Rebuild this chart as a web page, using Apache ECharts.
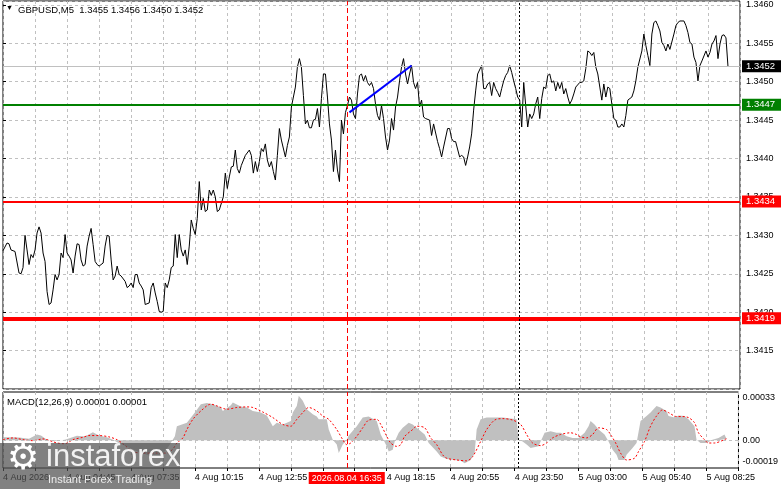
<!DOCTYPE html>
<html>
<head>
<meta charset="utf-8">
<title>GBPUSD M5</title>
<script src="https://cdn.jsdelivr.net/npm/echarts/dist/echarts.min.js"></script>
<style>
  html, body { margin: 0; padding: 0; background: #fff; }
  #chart { width: 781px; height: 489px; }
</style>
</head>
<body>
<div id="chart"></div>
<script>
// bar index (one bar = 5 minutes) -> close price
var closeLine = [
  [0,1.34280],[2,1.34290],[3,1.34289],[4,1.34281],[6,1.34279],[8,1.34251],[9,1.34250],[10,1.34258],[11,1.34300],[12,1.34281],
  [13,1.34262],[14,1.34275],[15,1.34271],[16,1.34281],[17,1.34303],[18,1.34311],[19,1.34303],[20,1.34277],[21,1.34266],[22,1.34227],
  [23,1.34210],[24,1.34212],[25,1.34229],[26,1.34249],[27,1.34242],[28,1.34249],[29,1.34277],[30,1.34271],[31,1.34301],[32,1.34277],
  [33,1.34273],[34,1.34268],[35,1.34251],[36,1.34273],[37,1.34289],[38,1.34288],[39,1.34268],[40,1.34260],[41,1.34262],[42,1.34286],
  [43,1.34299],[44,1.34309],[45,1.34288],[46,1.34266],[47,1.34262],[48,1.34260],[50,1.34264],[51,1.34286],[52,1.34300],[53,1.34299],
  [54,1.34268],[55,1.34242],[56,1.34247],[57,1.34260],[58,1.34249],[59,1.34247],[61,1.34240],[62,1.34232],[63,1.34234],[64,1.34238],
  [65,1.34232],[66,1.34249],[67,1.34249],[68,1.34238],[69,1.34234],[70,1.34229],[71,1.34210],[73,1.34212],[74,1.34232],[75,1.34238],
  [76,1.34225],[77,1.34214],[78,1.34201],[79,1.34200],[80,1.34201],[81,1.34238],[82,1.34232],[83,1.34242],[84,1.34258],[85,1.34260],
  [86,1.34301],[87,1.34271],[88,1.34301],[89,1.34281],[90,1.34273],[91,1.34281],[92,1.34262],[93,1.34286],[94,1.34320],[95,1.34309],
  [96,1.34301],[97,1.34322],[98,1.34370],[99,1.34333],[100,1.34348],[101,1.34331],[102,1.34333],[103,1.34359],[104,1.34352],[105,1.34359],
  [106,1.34350],[107,1.34331],[108,1.34333],[110,1.34350],[111,1.34381],[112,1.34361],[113,1.34376],[114,1.34389],[115,1.34390],[116,1.34411],
  [117,1.34387],[118,1.34381],[119,1.34391],[121,1.34404],[123,1.34411],[124,1.34404],[125,1.34381],[126,1.34396],[127,1.34383],[128,1.34396],
  [129,1.34413],[130,1.34409],[131,1.34419],[132,1.34398],[133,1.34389],[134,1.34396],[135,1.34383],[136,1.34372],[137,1.34404],[138,1.34439],
  [139,1.34424],[141,1.34402],[142,1.34417],[143,1.34428],[144,1.34467],[146,1.34493],[147,1.34519],[148,1.34530],[149,1.34519],[150,1.34482],
  [151,1.34445],[152,1.34450],[153,1.34440],[154,1.34440],[155,1.34450],[156,1.34451],[157,1.34465],[158,1.34441],[159,1.34478],[160,1.34510],
  [161,1.34510],[162,1.34480],[163,1.34445],[164,1.34424],[165,1.34383],[166,1.34411],[167,1.34385],[168,1.34370],[169,1.34450],[170,1.34432],
  [171,1.34460],[172,1.34469],[173,1.34480],[174,1.34476],[175,1.34458],[176,1.34452],[177,1.34484],[178,1.34508],[179,1.34510],[180,1.34501],
  [181,1.34508],[182,1.34499],[183,1.34495],[184,1.34499],[185,1.34491],[186,1.34471],[187,1.34456],[188,1.34450],[189,1.34469],[190,1.34452],
  [191,1.34428],[192,1.34411],[193,1.34424],[194,1.34452],[195,1.34437],[196,1.34467],[197,1.34480],[198,1.34501],[199,1.34519],[200,1.34530],
  [201,1.34510],[202,1.34497],[203,1.34510],[204,1.34521],[205,1.34499],[206,1.34491],[207,1.34499],[208,1.34467],[209,1.34476],[210,1.34454],
  [211,1.34452],[213,1.34450],[214,1.34430],[215,1.34445],[217,1.34422],[218,1.34413],[219,1.34402],[220,1.34415],[222,1.34439],[223,1.34439],
  [224,1.34426],[225,1.34422],[226,1.34422],[228,1.34402],[229,1.34404],[230,1.34402],[231,1.34391],[232,1.34402],[233,1.34415],[234,1.34432],
  [235,1.34463],[236,1.34488],[237,1.34510],[239,1.34521],[240,1.34491],[241,1.34491],[242,1.34497],[243,1.34499],[244,1.34482],[245,1.34499],
  [246,1.34491],[247,1.34486],[248,1.34480],[249,1.34491],[250,1.34501],[251,1.34508],[252,1.34512],[253,1.34521],[254,1.34512],[255,1.34501],
  [256,1.34491],[257,1.34480],[258,1.34476],[259,1.34441],[260,1.34499],[261,1.34469],[262,1.34441],[263,1.34458],[264,1.34452],[265,1.34458],
  [266,1.34471],[267,1.34480],[268,1.34452],[269,1.34478],[270,1.34493],[271,1.34491],[272,1.34508],[273,1.34510],[274,1.34499],[275,1.34501],
  [276,1.34488],[277,1.34499],[278,1.34491],[279,1.34499],[280,1.34484],[281,1.34491],[282,1.34480],[283,1.34471],[284,1.34476],[285,1.34484],
  [286,1.34493],[288,1.34499],[289,1.34499],[290,1.34501],[291,1.34517],[292,1.34540],[293,1.34538],[294,1.34534],[295,1.34538],[296,1.34519],
  [297,1.34510],[298,1.34493],[299,1.34476],[300,1.34497],[301,1.34480],[302,1.34493],[303,1.34491],[304,1.34471],[305,1.34452],[306,1.34450],
  [307,1.34441],[308,1.34441],[309,1.34445],[310,1.34441],[311,1.34456],[312,1.34476],[314,1.34480],[315,1.34488],[316,1.34501],[317,1.34519],
  [319,1.34540],[320,1.34562],[321,1.34547],[322,1.34534],[323,1.34521],[324,1.34562],[325,1.34577],[326,1.34579],[327,1.34573],[328,1.34566],
  [329,1.34551],[330,1.34547],[331,1.34540],[332,1.34549],[333,1.34542],[335,1.34562],[336,1.34573],[337,1.34577],[338,1.34579],[340,1.34579],
  [341,1.34573],[342,1.34564],[343,1.34551],[344,1.34549],[345,1.34532],[346,1.34525],[347,1.34501],[348,1.34521],[349,1.34527],[351,1.34540],
  [352,1.34532],[353,1.34538],[354,1.34549],[355,1.34553],[356,1.34560],[357,1.34530],[358,1.34549],[359,1.34560],[360,1.34561],[361,1.34557],
  [362,1.34520]
];

// MACD main line (grey histogram)
var macdHist = [
  [0,0.000021],[3,0.00002],[8,0.000018],[13,0.00001],[17,0.000039],[19,0.000032],[22,0.000004],[26,-0.000006],[31,0.000004],[37,0.00003],
  [41,0.000025],[45,0.000055],[48,0.000032],[52,0.00002],[55,0.000004],[58,-0.00002],[63,-0.00005],[68,-0.00008],[74,-0.00011],[77,-0.00012],
  [80,-0.00009],[83,-0.00004],[86,0.000027],[87,0.000096],[92,0.00012],[96,0.000189],[99,0.000247],[102,0.000254],[105,0.000247],[109,0.000224],
  [110,0.0002],[114,0.00024],[115,0.000259],[119,0.000231],[122,0.000224],[125,0.0002],[129,0.000189],[132,0.00017],[135,0.000096],[137,0.00012],
  [140,0.000108],[142,0.00012],[144,0.000131],[145,0.000189],[147,0.000235],[148,0.000304],[150,0.00027],[152,0.000212],[153,0.0002],[155,0.000177],
  [157,0.000162],[158,0.000143],[162,0.000143],[163,0.000073],[165,0.000004],[167,-0.00003],[168,-0.000088],[170,-0.00003],[172,0.000004],[173,0.000032],
  [177,0.000096],[180,0.000155],[183,0.000162],[187,0.000131],[189,0.000039],[192,-0.000042],[193,-0.000077],[195,-0.000065],[196,-0.000008],[198,0.000051],
  [200,0.000085],[203,0.00012],[205,0.000108],[208,0.000073],[211,0.000039],[213,-0.000019],[217,-0.000077],[219,-0.000112],[222,-0.000128],[226,-0.000135],
  [229,-0.000141],[231,-0.000157],[234,-0.000135],[236,-0.000088],[237,0.000073],[239,0.000143],[242,0.000155],[245,0.000155],[250,0.000155],[254,0.000148],
  [257,0.000143],[258,0.000004],[260,-0.000008],[262,-0.00003],[264,-0.000053],[265,-0.000065],[268,-0.000042],[269,-0.000008],[271,0.000051],[274,0.000062],
  [277,0.000051],[279,0.000051],[282,0.000027],[285,0.000016],[288,0.000016],[291,0.000051],[293,0.000096],[294,0.000131],[296,0.000108],[298,0.000073],
  [299,0.000073],[301,0.000039],[303,-0.000008],[305,-0.000065],[307,-0.0001],[308,-0.000135],[311,-0.000135],[312,-0.0001],[315,-0.000053],[317,-0.000019],
  [319,0.000131],[322,0.000166],[324,0.000189],[327,0.000235],[329,0.000224],[332,0.0002],[333,0.000166],[336,0.000155],[338,0.00017],[341,0.000166],
  [343,0.000143],[346,0.000096],[347,0.000004],[349,-0.000019],[352,-0.000019],[355,0.000004],[358,0.000016],[361,0.000039],[362,0.00001]
];

// MACD signal line (red dotted)
var macdSignal = [
  [0,0.000004],[5,0.000016],[10,0.000004],[15,-0.000003],[20,0.000009],[25,-0.00001],[27,-0.000019],[31,-0.000024],[35,0.000004],[40,0.00002],
  [43,0.000032],[48,0.000032],[53,0.000023],[57,0.000004],[60,-0.000024],[65,-0.000077],[70,-0.000088],[77,-0.000088],[82,-0.000088],[85,-0.00006],
  [87,-0.000019],[90,0.000016],[92,0.000073],[95,0.000143],[99,0.0002],[104,0.000247],[107,0.000235],[112,0.000212],[117,0.000224],[122,0.000228],
  [125,0.000224],[130,0.000193],[135,0.000155],[140,0.000108],[144,0.000096],[147,0.000143],[150,0.000189],[153,0.000224],[157,0.0002],[160,0.000166],
  [163,0.000143],[167,0.000073],[170,0.000004],[172,-0.00003],[174,-0.000019],[177,0.000027],[180,0.000085],[183,0.000138],[187,0.000143],[189,0.000108],
  [192,0.000027],[194,-0.000019],[197,-0.000042],[199,-0.00003],[201,0.000027],[205,0.000073],[207,0.000096],[211,0.000085],[214,0.000016],[217,-0.00003],
  [220,-0.0001],[222,-0.000123],[227,-0.000135],[232,-0.000141],[235,-0.000112],[239,-0.000008],[242,0.000073],[246,0.000138],[250,0.000148],[255,0.000138],
  [259,0.000108],[262,0.000039],[265,-0.000019],[269,-0.000037],[272,-0.000019],[275,0.000016],[279,0.000039],[284,0.000051],[287,0.000039],[289,0.000023],
  [292,0.000016],[295,0.000039],[298,0.000085],[302,0.000073],[304,0.000039],[307,-0.00003],[309,-0.000088],[312,-0.000135],[316,-0.000123],[318,-0.000077],
  [321,-0.000008],[324,0.000096],[327,0.000166],[330,0.000207],[333,0.000189],[337,0.000162],[340,0.000162],[343,0.000155],[346,0.00012],[348,0.000051],
  [351,0.000004],[353,-0.000019],[356,-0.000019],[361,0.000004],[362,0.00001]
];

// time labels, one every 32 bars starting at bar 0
var tickLabels = ['4 Aug 2026', '4 Aug 04:45', '4 Aug 07:35', '4 Aug 10:15', '4 Aug 12:55', '4 Aug 15:35',
                  '4 Aug 18:15', '4 Aug 20:55', '4 Aug 23:50', '5 Aug 03:00', '5 Aug 05:40', '5 Aug 08:25'];

// price levels: current price, support/resistance
var levels = [1.3452, 1.3447, 1.34344, 1.34192];
var crossBar = 172;        // crosshair bar (2026.08.04 16:35)
var crossText = '2026.08.04 16:35';
var separatorBar = 258;    // day separator
var trendLine = [[173, 1.34460], [204, 1.34521]];

var FONT = '"Liberation Sans", Arial, sans-serif';
var gridDash = { color: '#c0c0c0', type: [3, 3], width: 1 };

function levelLine(i, color, width, bg) {
  return {
    yAxis: levels[i],
    lineStyle: { color: color, width: width, type: 'solid' },
    label: {
      show: true, position: 'end', distance: 2,
      formatter: levels[i].toFixed(4),
      backgroundColor: bg, color: '#fff', fontSize: 9.5, fontFamily: FONT,
      padding: [2, 6, 1, 4], lineHeight: 9
    }
  };
}

var chart = echarts.init(document.getElementById('chart'));

var option = {
  animation: false,
  backgroundColor: '#fff',
  textStyle: { fontFamily: FONT },
  title: [
    { text: '\u25BC', left: 6, top: 5, padding: 0, textStyle: { fontSize: 7, color: '#000', fontWeight: 'normal' } },
    { text: 'GBPUSD,M5  1.3455 1.3456 1.3450 1.3452', left: 18, top: 5, padding: 0,
      textStyle: { fontSize: 9.5, color: '#000', fontWeight: 'normal', fontFamily: FONT } },
    { text: 'MACD(12,26,9) 0.00001 0.00001', left: 7, top: 397, padding: 0,
      textStyle: { fontSize: 9.5, color: '#000', fontWeight: 'normal', fontFamily: FONT } }
  ],
  grid: [
    { left: 3, top: 1, width: 737, height: 388, show: true, borderColor: '#000', borderWidth: 1 },
    { left: 3, top: 392, width: 737, height: 76, show: true, borderColor: '#000', borderWidth: 1 }
  ],
  xAxis: [
    {
      gridIndex: 0, type: 'value', min: 0, max: 368, interval: 16,
      axisLine: { show: false, onZero: false }, axisTick: { show: false }, axisLabel: { show: false },
      splitLine: { show: true, lineStyle: gridDash }
    },
    {
      gridIndex: 1, type: 'value', min: 0, max: 368, interval: 16,
      axisLine: { show: false, onZero: false },
      axisTick: { show: true, length: 3, lineStyle: { color: '#000' } },
      axisLabel: {
        show: true, align: 'left', margin: 5, fontSize: 9, color: '#000', fontFamily: FONT,
        formatter: function (v) { return v % 32 === 0 ? (tickLabels[v / 32] || '') : ''; }
      },
      splitLine: { show: true, lineStyle: gridDash }
    }
  ],
  yAxis: [
    {
      gridIndex: 0, type: 'value', position: 'right', min: 1.3410, max: 1.34605, interval: 0.0005,
      axisLine: { show: false },
      axisTick: { show: true, length: 3, lineStyle: { color: '#000' } },
      axisLabel: {
        margin: 6, fontSize: 9, color: '#000', fontFamily: FONT,
        showMinLabel: false, showMaxLabel: false,
        formatter: function (v) { return v.toFixed(4); }
      },
      splitLine: { show: true, lineStyle: gridDash }
    },
    {
      gridIndex: 1, type: 'value', position: 'right', min: -0.00019, max: 0.00033, interval: 0.00019,
      axisLine: { show: false }, axisTick: { show: false },
      axisLabel: {
        margin: 4, fontSize: 9, color: '#000', fontFamily: FONT,
        formatter: function (v) {
          if (Math.abs(v) < 1e-9) return '0.00';
          if (v > 0.0003) return '{t|0.00033}';
          if (v < -0.00018) return '{b|-0.00019}';
          return '';
        },
        rich: {
          t: { fontSize: 9, color: '#000', fontFamily: FONT, padding: [12, 0, 0, 0] },
          b: { fontSize: 9, color: '#000', fontFamily: FONT, padding: [0, 0, 12, 0] }
        }
      },
      splitLine: { show: false }
    }
  ],
  series: [
    {
      name: 'Levels', type: 'line', xAxisIndex: 0, yAxisIndex: 0,
      data: [], symbol: 'none', z: 2,
      markLine: {
        silent: true, symbol: ['none', 'none'], animation: false, precision: 6,
        data: [
          levelLine(0, '#c0c0c0', 1, '#000000'),
          levelLine(1, '#008000', 2, '#008000'),
          levelLine(2, '#ff0000', 2, '#ff0000'),
          levelLine(3, '#ff0000', 4, '#ff0000'),
          { xAxis: crossBar, lineStyle: { color: '#ff0000', width: 1, type: [5, 3] }, label: { show: false } },
          { xAxis: separatorBar, lineStyle: { color: '#000', width: 1, type: [2, 2] }, label: { show: false } }
        ]
      }
    },
    {
      name: 'GBPUSD', type: 'line', xAxisIndex: 0, yAxisIndex: 0,
      data: closeLine, showSymbol: false, symbol: 'none',
      lineStyle: { color: '#000', width: 1 },
      z: 3,
      markLine: {
        silent: true, symbol: ['none', 'none'], animation: false, precision: 6,
        data: [
          [
            { coord: trendLine[0], lineStyle: { color: '#0000ff', width: 2, type: 'solid' }, label: { show: false } },
            { coord: trendLine[1] }
          ]
        ]
      }
    },
    {
      name: 'MACD', type: 'line', xAxisIndex: 1, yAxisIndex: 1,
      data: macdHist, showSymbol: false, symbol: 'none',
      lineStyle: { width: 0, color: '#c0c0c0' },
      areaStyle: { color: '#c0c0c0', opacity: 1 },
      markLine: {
        silent: true, symbol: ['none', 'none'], animation: false, precision: 6,
        data: [
          { yAxis: 0, lineStyle: { color: '#c0c0c0', width: 1, type: [3, 3] }, label: { show: false } },
          {
            xAxis: crossBar, lineStyle: { color: '#ff0000', width: 1, type: [5, 3] },
            label: {
              show: true, position: 'start', distance: 4, formatter: crossText,
              backgroundColor: '#ff0000', color: '#fff', fontSize: 9, fontFamily: FONT,
              padding: [2, 3, 1, 3], lineHeight: 9
            }
          },
          { xAxis: separatorBar, lineStyle: { color: '#000', width: 1, type: [2, 2] }, label: { show: false } }
        ]
      }
    },
    {
      name: 'Signal', type: 'line', xAxisIndex: 1, yAxisIndex: 1,
      data: macdSignal, showSymbol: false, symbol: 'none', smooth: 0.3,
      lineStyle: { color: '#ff0000', width: 1, type: [2, 2] }
    }
  ],
  graphic: [
    { type: 'rect', left: 0, top: 443, z: 100, shape: { width: 180, height: 46 },
      style: { fill: 'rgba(80,80,80,0.72)' } },
    { type: 'text', left: 7, top: 442, z: 101,
      style: { text: '\u2699', font: '36px "DejaVu Sans"', fill: '#ffffff' } },
    { type: 'text', left: 46, top: 442, z: 101,
      style: { text: 'instaforex', font: '31px "Liberation Sans"', fill: '#f2f2f2' } },
    { type: 'text', left: 48, top: 474, z: 101,
      style: { text: 'Instant Forex Trading', font: '11px "Liberation Sans"', fill: 'rgba(255,255,255,0.85)' } }
  ]
};

chart.setOption(option);
</script>
</body>
</html>
